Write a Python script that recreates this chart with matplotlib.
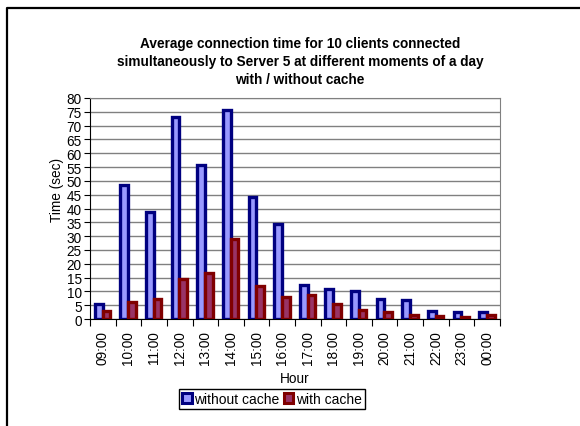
import matplotlib
matplotlib.use("Agg")
import matplotlib.pyplot as plt
from matplotlib.patches import Patch
from matplotlib.lines import Line2D
import numpy as np

plt.rcParams['font.family'] = ['Liberation Sans', 'DejaVu Sans']

# data
hours = ['09:00', '10:00', '11:00', '12:00', '13:00', '14:00', '15:00', '16:00',
         '17:00', '18:00', '19:00', '20:00', '21:00', '22:00', '23:00', '00:00']
without_cache = [5.5, 48.5, 38.8, 73.2, 55.8, 75.7, 44.0, 34.5,
                 12.3, 10.8, 10.0, 7.1, 6.9, 2.9, 2.4, 2.5]
with_cache = [2.8, 6.2, 7.3, 14.3, 16.5, 28.8, 11.8, 8.0,
              8.8, 5.5, 3.4, 2.6, 1.6, 1.0, 0.9, 1.3]

navy_edge, navy_fill = '#000080', '#9999FF'
red_edge, red_fill = '#800000', '#993366'

fig = plt.figure(figsize=(5.8, 4.27), dpi=100)
ax = fig.add_axes([90 / 580, 1 - 320 / 427, 410 / 580, 221 / 427])

x = np.arange(len(hours))
ax.bar(x - 0.16, without_cache, width=0.3, color=navy_fill, edgecolor=navy_edge,
       linewidth=2.4, zorder=3)
ax.bar(x + 0.14, with_cache, width=0.3, color=red_fill, edgecolor=red_edge,
       linewidth=2.4, zorder=4)

ax.set_xlim(-0.5, len(hours) - 0.5)
ax.set_ylim(0, 80)
ax.set_yticks(range(0, 81, 5))
ax.yaxis.grid(True, color='#808080', linewidth=1, zorder=0)
ax.tick_params(axis='y', direction='out', length=4, labelsize=9.8, pad=2)

# category boundaries get the tick marks, labels sit at centres
ax.set_xticks(np.arange(-0.5, len(hours), 1))
ax.set_xticklabels([])
ax.set_xticks(x, minor=True)
ax.set_xticklabels(hours, minor=True, rotation=90, fontsize=9.8)
ax.tick_params(axis='x', which='major', direction='out', length=5, color='black')
ax.tick_params(axis='x', which='minor', length=0, pad=8)

for side in ['left', 'bottom']:
    ax.spines[side].set_color('black')
for side in ['top', 'right']:
    ax.spines[side].set_color('#808080')

ax.set_xlabel('Hour', fontsize=9.8, labelpad=5)
fig.text(57 / 580, 1 - 190 / 427, 'Time (sec)', rotation=90, fontsize=9.8,
         ha='center', va='center')

fig.text(300 / 580, 1 - 62 / 427,
         'Average connection time for 10 clients connected\n'
         'simultaneously to Server 5 at different moments of a day\n'
         'with / without cache',
         ha='center', va='center', fontsize=9.8, fontweight='bold', linespacing=1.4)

handles = [Patch(facecolor=navy_fill, edgecolor=navy_edge, linewidth=2.2),
           Patch(facecolor=red_fill, edgecolor=red_edge, linewidth=2.2)]
leg = fig.legend(handles, ['without cache', 'with cache'], loc='center',
                 bbox_to_anchor=(272 / 580, 1 - 400 / 427), ncol=2, fontsize=10,
                 fancybox=False, edgecolor='black', framealpha=1,
                 handlelength=0.7, handleheight=0.7, handletextpad=0.2,
                 columnspacing=0.3, borderpad=0.2, borderaxespad=0)
leg.get_frame().set_linewidth(1)

# outer chart border (only top and left show in the crop)
fig.add_artist(Line2D([6.5 / 580, 6.5 / 580, 1], [0, 1 - 9 / 427, 1 - 9 / 427],
                      transform=fig.transFigure, color='black', linewidth=1.6))

fig.savefig('out.png', dpi=100)
